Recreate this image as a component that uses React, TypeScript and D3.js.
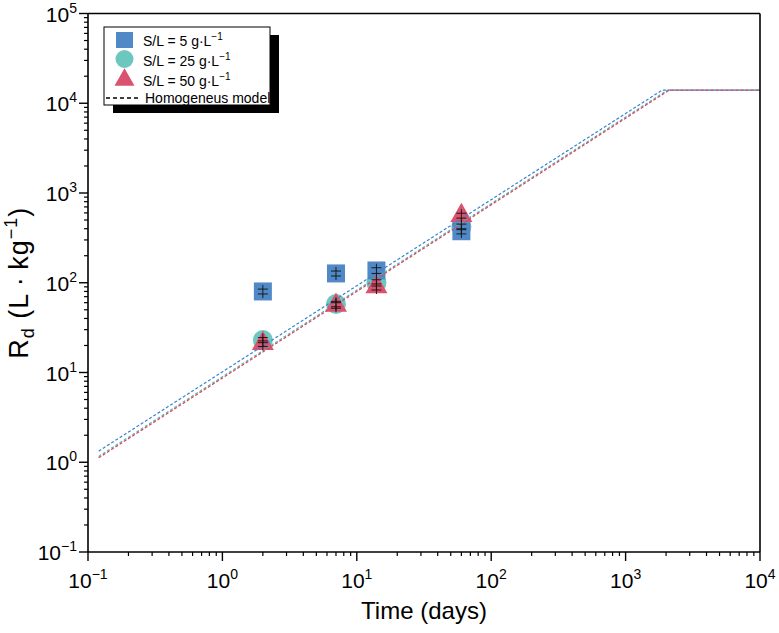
import React from "react";
import * as d3 from "d3";

// Sampling times (days)
const days = [2, 7, 14, 60];

// Measured distribution coefficients Rd (L·kg⁻¹) for each solid/liquid ratio
const rdSL5 = [80, 127, 137, 375];
const rdSL25 = [23, 58, 100, 420];
const rdSL50 = [21, 56, 90, 560];

// Standard deviations of the measurements
const errSL5 = [5, 8, 10, 25];
const errSL25 = [1.5, 4, 8, 30];
const errSL50 = [1.5, 4, 7, 35];

// Homogeneous model curves: vertices (time, Rd) of each fitted curve
const modelT5 = [0.12, 1870, 10000];
const modelRd5 = [1.33, 14000, 14000];
const modelT25 = [0.12, 2050, 10000];
const modelRd25 = [1.16, 14000, 14000];
const modelT50 = [0.12, 2110, 10000];
const modelRd50 = [1.12, 14000, 14000];

// Axis decades
const xDecades = [-1, 0, 1, 2, 3, 4];
const yDecades = [-1, 0, 1, 2, 3, 4, 5];

const legendLabels = ["5", "25", "50"];

const W = 779;
const H = 633;
const M = { left: 88, right: 760, top: 13.5, bottom: 552 };

const C_BLUE = "#5189c6";
const C_TEAL = "#6ec7bf";
const C_RED = "#d9526e";
const L_BLUE = "#3d7fd0";
const L_TEAL = "#4dbcae";
const L_RED = "#e2405c";

const FONT = "'Liberation Sans', Arial, sans-serif";

export default function App() {
  const x = d3.scaleLog().domain([0.1, 1e4]).range([M.left, M.right]);
  const y = d3.scaleLog().domain([0.1, 1e5]).range([M.bottom, M.top]);

  const line = d3
    .line<[number, number]>()
    .x((d) => x(d[0]))
    .y((d) => y(d[1]));

  const minorX: number[] = [];
  xDecades.slice(0, -1).forEach((e) => {
    for (let k = 2; k <= 9; k++) minorX.push(k * Math.pow(10, e));
  });
  const minorY: number[] = [];
  yDecades.slice(0, -1).forEach((e) => {
    for (let k = 2; k <= 9; k++) minorY.push(k * Math.pow(10, e));
  });

  const models = [
    { t: modelT5, v: modelRd5, c: L_BLUE },
    { t: modelT25, v: modelRd25, c: L_TEAL },
    { t: modelT50, v: modelRd50, c: L_RED },
  ];

  const sq = 18;
  const triPath = (cx: number, cy: number, s: number) => {
    const h = s * 0.88;
    return `M${cx},${cy - (2 * h) / 3}L${cx + s / 2},${cy + h / 3}L${cx - s / 2},${cy + h / 3}Z`;
  };

  // error bar: caps at ±sd, stem running a little past the caps
  const errorBars = (vals: number[], errs: number[], key: string) =>
    days.map((t, i) => {
      const cx = x(t);
      const y1 = y(vals[i] + errs[i]);
      const y0 = y(vals[i] - errs[i]);
      return (
        <g key={key + i} stroke="#111" strokeWidth={0.9}>
          <line x1={cx} x2={cx} y1={y1 - 4} y2={y0 + 4} />
          <line x1={cx - 5} x2={cx + 5} y1={y1} y2={y1} />
          <line x1={cx - 5} x2={cx + 5} y1={y0} y2={y0} />
        </g>
      );
    });

  const lx = 104;
  const ly = 27;
  const lw = 166;
  const lh = 78;

  const supText = (e: number) => (e < 0 ? "\u2212" + Math.abs(e) : String(e));

  return (
    <svg
      width={W}
      height={H}
      style={{ position: "absolute", left: 0, top: 0, display: "block", background: "#fff" }}
      fontFamily={FONT}
    >
      <rect x={0} y={0} width={W} height={H} fill="#fff" />

      {/* markers */}
      {days.map((t, i) => (
        <circle key={"c" + i} cx={x(t)} cy={y(rdSL25[i])} r={10} fill={C_TEAL} />
      ))}
      {days.map((t, i) => (
        <rect
          key={"s" + i}
          x={x(t) - sq / 2}
          y={y(rdSL5[i]) - sq / 2}
          width={sq}
          height={sq}
          fill={C_BLUE}
        />
      ))}
      {days.map((t, i) => (
        <path key={"t" + i} d={triPath(x(t), y(rdSL50[i]), 22)} fill={C_RED} />
      ))}

      {/* model curves */}
      {models.map((m, k) => (
        <path
          key={"m" + k}
          d={line(m.t.map((t, i) => [t, m.v[i]] as [number, number])) || ""}
          fill="none"
          stroke={m.c}
          strokeWidth={1.2}
          strokeDasharray="3,2"
        />
      ))}

      {/* error bars */}
      {errorBars(rdSL5, errSL5, "e5")}
      {errorBars(rdSL25, errSL25, "e25")}
      {errorBars(rdSL50, errSL50, "e50")}

      {/* frame */}
      <line x1={M.left} x2={M.right} y1={M.top} y2={M.top} stroke="#000" strokeWidth={1.6} />
      <line x1={M.right} x2={M.right} y1={M.top} y2={M.bottom} stroke="#000" strokeWidth={1.6} />
      <line x1={M.left} x2={M.right} y1={M.bottom} y2={M.bottom} stroke="#000" strokeWidth={1.6} />
      <line x1={M.left} x2={M.left} y1={M.top} y2={M.bottom} stroke="#000" strokeWidth={1.6} />

      {/* x ticks */}
      {minorX.map((v, i) => (
        <line key={"mx" + i} x1={x(v)} x2={x(v)} y1={M.bottom} y2={M.bottom + 4} stroke="#000" strokeWidth={1.2} />
      ))}
      {xDecades.map((e) => (
        <g key={"X" + e}>
          <line x1={x(Math.pow(10, e))} x2={x(Math.pow(10, e))} y1={M.bottom} y2={M.bottom + 9} stroke="#000" strokeWidth={1.4} />
          <text x={x(Math.pow(10, e))} y={588} fontSize={21} textAnchor="middle" fill="#000">
            10
            <tspan fontSize={14} dy={-9}>
              {supText(e)}
            </tspan>
          </text>
        </g>
      ))}

      {/* y ticks */}
      {minorY.map((v, i) => (
        <line key={"my" + i} x1={M.left - 4} x2={M.left} y1={y(v)} y2={y(v)} stroke="#000" strokeWidth={1.2} />
      ))}
      {yDecades.map((e) => (
        <g key={"Y" + e}>
          <line x1={M.left - 9} x2={M.left} y1={y(Math.pow(10, e))} y2={y(Math.pow(10, e))} stroke="#000" strokeWidth={1.4} />
          <text x={77} y={y(Math.pow(10, e)) + 8} fontSize={21} textAnchor="end" fill="#000">
            10
            <tspan fontSize={14} dy={-9}>
              {supText(e)}
            </tspan>
          </text>
        </g>
      ))}

      {/* axis titles */}
      <text x={(M.left + M.right) / 2} y={619} fontSize={24} textAnchor="middle" fill="#000">
        Time (days)
      </text>
      <text
        transform={`translate(28, ${(M.top + M.bottom) / 2}) rotate(-90)`}
        fontSize={27}
        textAnchor="middle"
        fill="#000"
        letterSpacing={1}
      >
        R
        <tspan fontSize={18} dy={6}>d</tspan>
        <tspan dy={-6}>{" (L\u2009\u00b7\u2009kg"}</tspan>
        <tspan fontSize={18} dy={-11}>{"\u22121"}</tspan>
        <tspan dy={11}>)</tspan>
      </text>

      {/* legend */}
      <rect x={lx + 9} y={ly + 8} width={lw} height={lh} fill="#000" />
      <rect x={lx} y={ly} width={lw} height={lh} fill="#fff" stroke="#000" strokeWidth={1} />
      <rect x={116} y={32} width={17} height={16} fill={C_BLUE} />
      <circle cx={124.5} cy={59} r={9} fill={C_TEAL} />
      <path d={triPath(124.5, 80, 20)} fill={C_RED} />
      <line x1={106} x2={141} y1={98} y2={98} stroke="#000" strokeWidth={1.5} strokeDasharray="4,3" />
      {legendLabels.map((s, i) => (
        <text key={"lg" + i} x={143} y={46 + i * 20} fontSize={14} fill="#000">
          {"S/L = " + s + " g\u00b7L"}
          <tspan fontSize={10} dy={-6}>{"\u22121"}</tspan>
        </text>
      ))}
      <text x={145} y={103} fontSize={14} fill="#000">
        Homogeneus model
      </text>
    </svg>
  );
}
